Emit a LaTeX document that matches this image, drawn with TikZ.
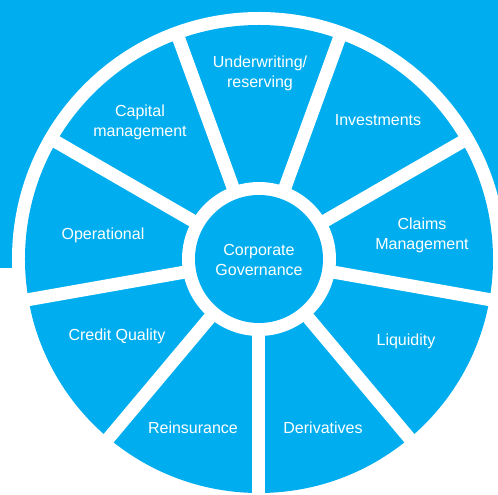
\documentclass[tikz,border=0pt]{standalone}
\usepackage{fontspec}
\setmainfont{Liberation Sans}
\definecolor{wheelblue}{RGB}{0,174,239}
\begin{document}
\begin{tikzpicture}[x=1pt,y=1pt,
  lbl/.style={text=white,font=\fontsize{16}{20}\selectfont,align=center,inner sep=0pt},
  divider/.style={white,line width=13pt}]
\useasboundingbox (-259,-236) rectangle (239,259);
\fill[wheelblue] (-259,-9) rectangle (239,259);
\fill[white] (0,0) circle (247);
\fill[wheelblue] (0,0) circle (234);
\foreach \a in {30,70,...,350} \draw[divider] (0,0) -- (\a:241);
\fill[white] (0,0) circle (77);
\node[circle,fill=wheelblue,minimum size=128pt,inner sep=0pt] (core) at (0,0) {};
\node[lbl] (corelbl) at (0,-1) {Corporate\\Governance};
\node[lbl] (uw) at (1,186) {Underwriting/\\reserving};
\node[lbl] (inv) at (119,139) {Investments};
\node[lbl] (claims) at (163,24) {Claims\\Management};
\node[lbl] (liq) at (147,-82) {Liquidity};
\node[lbl] (der) at (64,-169) {Derivatives};
\node[lbl] (rein) at (-66,-169) {Reinsurance};
\node[lbl] (credit) at (-142,-77) {Credit Quality};
\node[lbl] (oper) at (-156,24) {Operational};
\node[lbl] (cap) at (-119,137) {Capital\\management};
\end{tikzpicture}
\end{document}
